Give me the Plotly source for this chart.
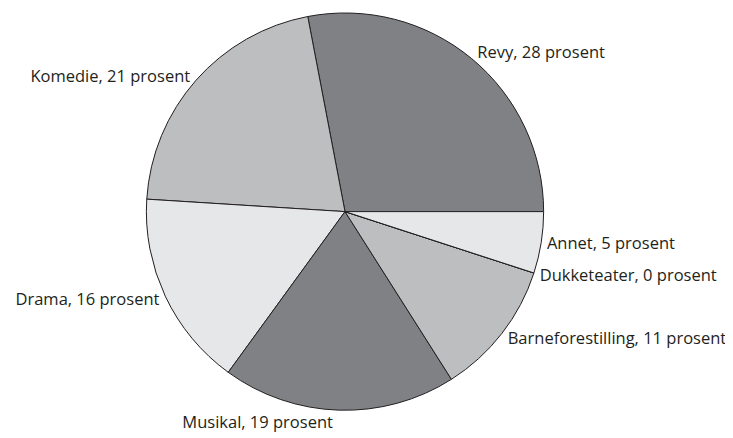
import plotly.graph_objects as go

categories = ["Revy", "Komedie", "Drama", "Musikal", "Barneforestilling", "Dukketeater", "Annet"]
values = [28, 21, 16, 19, 11, 0, 5]
colors = ["#808184", "#bcbec0", "#e6e7e8", "#808184", "#bcbec0", "#e6e7e8", "#e6e7e8"]

W, H = 733, 438
cx, cy, r = 337, 202, 200

# first slice (Revy) ends at 3 o'clock, going counterclockwise
start_rot = 90 - values[0] / sum(values) * 360

fig = go.Figure(go.Pie(
    labels=categories,
    values=values,
    sort=False,
    direction="counterclockwise",
    rotation=start_rot,
    marker=dict(colors=colors, line=dict(color="#231f20", width=1)),
    texttemplate="%{label}, %{value} prosent",
    textposition="outside",
    textfont=dict(family="Open Sans", size=16.5, color="#231f20"),
    showlegend=False,
    hoverinfo="label+value",
    domain=dict(x=[(cx - r) / W, (cx + r) / W],
                y=[max(0, (H - cy - r) / H), min(1, (H - cy + r) / H)]),
))
fig.update_layout(
    width=W, height=H,
    margin=dict(l=0, r=0, t=0, b=0),
    paper_bgcolor="white",
)
fig.write_html("out.html")
